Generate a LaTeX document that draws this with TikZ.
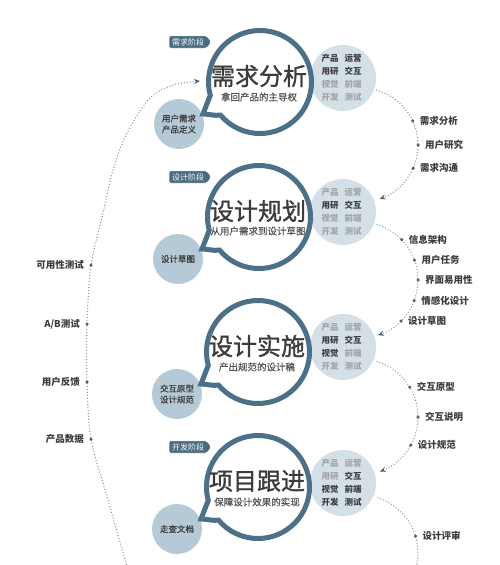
\documentclass[tikz,border=0pt]{standalone}
\usepackage{fontspec}
\setmainfont{Noto Sans CJK SC}
\newfontfamily\ttlfont[FakeBold=1.2]{Noto Sans CJK SC}
\newfontfamily\subfont[FakeBold=0.6]{Noto Sans CJK SC}
\usetikzlibrary{arrows.meta,shapes.symbols,calc}
\definecolor{ring}{HTML}{4B7088}
\definecolor{bubble}{HTML}{D4E0E7}
\definecolor{side}{HTML}{B5CAD6}
\definecolor{dk}{HTML}{3C3C3C}
\definecolor{lt}{HTML}{A3A3A3}
\definecolor{dotc}{HTML}{8797A2}
\definecolor{arrc}{HTML}{55626B}
\definecolor{tagc}{HTML}{4A6B80}
\definecolor{subc}{HTML}{555555}
\tikzset{
  bubblering/.pic={
    \path[fill=white,draw=ring,line width=5pt,line join=miter,miter limit=20]
      (140:51.5) arc[start angle=140,end angle=-195,radius=51.5]
      .. controls (-54,22) .. (-57,32)
      .. controls (-51,32) and (-46,34) .. (140:51.5) -- cycle;
  }
}
\newcommand\myroles[9]{%
  \node[role,text=#2] (r#1a) at (330,#1-20) {产品};
  \node[role,text=#3] (r#1b) at (353,#1-20) {运营};
  \node[role,text=#4] (r#1c) at (330,#1-7) {用研};
  \node[role,text=#5] (r#1d) at (353,#1-7) {交互};
  \node[role,text=#6] (r#1e) at (330,#1+6) {视觉};
  \node[role,text=#7] (r#1f) at (353,#1+6) {前端};
  \node[role,text=#8] (r#1g) at (330,#1+19) {开发};
  \node[role,text=#9] (r#1h) at (353,#1+19) {测试};}
\begin{document}
\begin{tikzpicture}[x=1pt,y=-1pt,
  dotline/.style={draw=dotc,line width=1.4pt,line cap=round,dash pattern=on 0pt off 3pt},
  arr/.style={-{Stealth[length=6pt,width=5pt,color=arrc]}},
  dotn/.style={circle,fill=arrc,inner sep=0pt,minimum size=3.5pt},
  lab/.style={font=\fontsize{9.5}{10}\selectfont\bfseries,text=dk,inner sep=1pt},
  ttl/.style={font=\ttlfont\fontsize{24}{24}\selectfont,text=dk,inner sep=0pt},
  subt/.style={font=\subfont\fontsize{9.5}{10}\selectfont,text=subc,inner sep=0pt},
  graybub/.style={circle,fill=bubble,minimum size=66pt,inner sep=0pt},
  sidebub/.style={circle,fill=side,minimum size=50pt,inner sep=0pt,align=center,font=\subfont\fontsize{8.5}{11}\selectfont,text=dk},
  role/.style={font=\fontsize{8.5}{9}\selectfont\bfseries,inner sep=0pt},
  tagbox/.style={signal,signal to=east,signal pointer angle=110,fill=tagc,draw=white,line width=0.6pt,rounded corners=2pt,text=white,font=\fontsize{8}{8}\selectfont,inner xsep=3pt,inner ysep=2pt,minimum height=12.5pt}
]
\clip (0,0) rectangle (500,565);
\fill[white] (0,0) rectangle (500,565);

% ---- left long arc ----
\draw[dotline,arr] plot[smooth] coordinates {(128,570) (108,500) (91,439) (87,382) (87,324) (91,265) (103,213) (113,170) (127,133) (150,98) (173,85) (200,81)};
\node[dotn] (ld1) at (91,265) {};
\node[dotn] (ld2) at (87,324) {};
\node[dotn] (ld3) at (87,382) {};
\node[dotn] (ld4) at (91,439) {};
\node[lab,anchor=east] (ll1) at ([xshift=-4pt]ld1.west) {可用性测试};
\node[lab,anchor=east] (ll2) at ([xshift=-4pt]ld2.west) {A/B测试};
\node[lab,anchor=east] (ll3) at ([xshift=-4pt]ld3.west) {用户反馈};
\node[lab,anchor=east] (ll4) at ([xshift=-4pt]ld4.west) {产品数据};

% ---- right arcs ----
\coordinate (c1) at (361,145);
\draw[dotline,arr] ($(c1)+(-74:57)$) arc[start angle=-74,end angle=71,radius=57];
\node[dotn] (d11) at ($(c1)+(-25:57)$) {};
\node[dotn] (d12) at ($(c1)+(0:57)$) {};
\node[dotn] (d13) at ($(c1)+(24:57)$) {};
\node[lab,anchor=west] at ([xshift=4pt]d11.east) {需求分析};
\node[lab,anchor=west] at ([xshift=4pt]d12.east) {用户研究};
\node[lab,anchor=west] at ([xshift=4pt]d13.east) {需求沟通};

\coordinate (c2) at (360,280);
\draw[dotline,arr] ($(c2)+(-73:58)$) arc[start angle=-73,end angle=72,radius=58];
\node[dotn] (d21) at ($(c2)+(-44:58)$) {};
\node[dotn] (d22) at ($(c2)+(-20:58)$) {};
\node[dotn] (d23) at ($(c2)+(0:58)$) {};
\node[dotn] (d24) at ($(c2)+(21:58)$) {};
\node[dotn] (d25) at ($(c2)+(45:58)$) {};
\node[lab,anchor=west] at ([xshift=4pt]d21.east) {信息架构};
\node[lab,anchor=west] at ([xshift=4pt]d22.east) {用户任务};
\node[lab,anchor=west] at ([xshift=4pt]d23.east) {界面易用性};
\node[lab,anchor=west] at ([xshift=4pt]d24.east) {情感化设计};
\node[lab,anchor=west] at ([xshift=4pt]d25.east) {设计草图};

\coordinate (c3) at (360,417);
\draw[dotline,arr] ($(c3)+(-73:58)$) arc[start angle=-73,end angle=70,radius=58];
\node[dotn] (d31) at ($(c3)+(-31:58)$) {};
\node[dotn] (d32) at ($(c3)+(0:58)$) {};
\node[dotn] (d33) at ($(c3)+(29:58)$) {};
\node[lab,anchor=west] at ([xshift=4pt]d31.east) {交互原型};
\node[lab,anchor=west] at ([xshift=4pt]d32.east) {交互说明};
\node[lab,anchor=west] at ([xshift=4pt]d33.east) {设计规范};

\coordinate (c4) at (360,553);
\draw[dotline] ($(c4)+(-72:58)$) arc[start angle=-72,end angle=30,radius=58];
\node[dotn] (d41) at ($(c4)+(-17:58)$) {};
\node[lab,anchor=west] at ([xshift=4pt]d41.east) {设计评审};

% ---- gray role bubbles ----
\node[graybub] (g1) at (343,78) {};
\node[graybub] (g2) at (343,212) {};
\node[graybub] (g3) at (343,347) {};
\node[graybub] (g4) at (343,483) {};
\myroles{78}{dk}{dk}{dk}{dk}{lt}{lt}{lt}{lt}
\myroles{212}{lt}{lt}{dk}{dk}{lt}{lt}{lt}{lt}
\myroles{347}{lt}{lt}{dk}{dk}{dk}{lt}{lt}{lt}
\myroles{483}{lt}{lt}{lt}{dk}{dk}{dk}{dk}{dk}

% ---- side bubbles ----
\node[sidebub] (sb1) at (179,124) {用户需求\\产品定义};
\node[sidebub] (sb2) at (178,259) {设计草图};
\node[sidebub] (sb3) at (177,394) {交互原型\\设计规范};
\node[sidebub] (sb4) at (177,529) {走查文档};

% ---- main rings ----
\pic (p1) at (260,82) {bubblering};
\pic (p2) at (259,217) {bubblering};
\pic (p3) at (258,352) {bubblering};
\pic (p4) at (258,487) {bubblering};

\node[ttl] (t1) at (259,76) {需求分析};
\node[subt] (s1) at (259,97) {拿回产品的主导权};
\node[ttl] (t2) at (258,211) {设计规划};
\node[subt] (s2) at (258,231) {从用户需求到设计草图};
\node[ttl] (t3) at (257,346) {设计实施};
\node[subt] (s3) at (257,367) {产出规范的设计稿};
\node[ttl] (t4) at (257,481) {项目跟进};
\node[subt] (s4) at (257,502) {保障设计效果的实现};

% ---- stage tags ----
\node[tagbox] (tg1) at (188,42) {需求阶段};
\node[tagbox] (tg2) at (188,177) {设计阶段};
\node[tagbox] (tg4) at (188,447) {开发阶段};
\end{tikzpicture}
\end{document}
